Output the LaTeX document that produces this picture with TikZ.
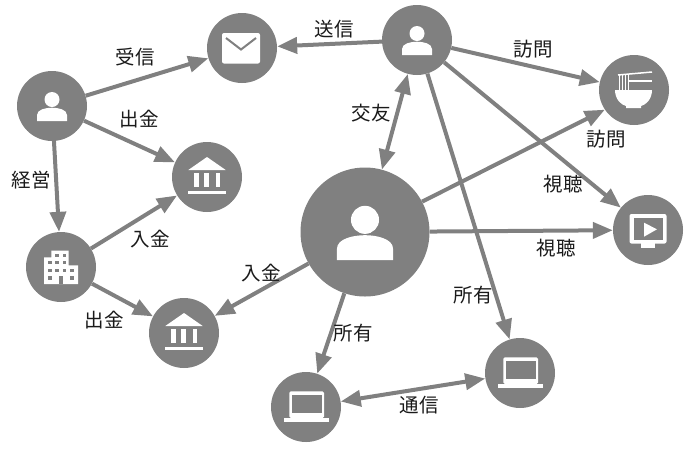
\documentclass[tikz,border=0pt]{standalone}
\usepackage{fontspec}
\setmainfont{Noto Sans CJK JP}
\usepackage{xcolor}
\usetikzlibrary{arrows.meta}
\definecolor{disc}{HTML}{808080}
\definecolor{ink}{HTML}{1A1A1A}
\tikzset{
  hub/.style={circle,fill=disc,minimum size=70pt,inner sep=0pt},
  bighub/.style={circle,fill=disc,minimum size=129pt,inner sep=0pt},
  link/.style={disc,line width=4pt,-{Triangle[length=20pt,width=16pt]}},
  twolink/.style={disc,line width=4pt,{Triangle[length=20pt,width=16pt]}-{Triangle[length=20pt,width=16pt]}},
  lab/.style={font=\fontsize{19.5}{20}\selectfont,text=ink,inner sep=0pt},
  person/.pic={
    \fill[white] (0,-6.5) circle (7.5);
    \fill[white] (-15,15) -- (-15,9) .. controls (-15,3.5) and (-6,1.7) .. (0,1.7)
      .. controls (6,1.7) and (15,3.5) .. (15,9) -- (15,15) -- cycle;
  },
  mailicon/.pic={
    \fill[white,rounded corners=2pt] (-20,-15) rectangle (18,15.5);
    \draw[disc,line width=2pt] (-16,-10) -- (-1,1.5) -- (14,-10);
  },
  bankicon/.pic={
    \fill[white] (0,-20) -- (18.7,-7) -- (-18.7,-7) -- cycle;
    \fill[white] (-12.7,-3.7) rectangle (-8,9.7);
    \fill[white] (-2.7,-3.7) rectangle (2,9.7);
    \fill[white] (8.7,-3.7) rectangle (13,9.7);
    \fill[white] (-18.7,13.7) rectangle (18.7,17);
  },
  laptopicon/.pic={
    \fill[white,rounded corners=1.5pt] (-16.7,-15.7) rectangle (18,11);
    \fill[disc] (-13.7,-12.3) rectangle (15.7,6);
    \fill[white] (-22,11) rectangle (23,15);
  },
  officeicon/.pic={
    \fill[white] (-17,17) -- (-17,-9.7) -- (-9.7,-9.7) -- (-9.7,-16.3) -- (7.7,-16.3)
      -- (7.7,-1.7) -- (17,-1.7) -- (17,17) -- cycle;
    \foreach \wx/\wy in {-4/-11.7,3.7/-11.7,-11/-4.3,-4/-4.3,3.7/-4.3,-11/3.3,-4/3.3,3.7/3.3,11/3.3,-11/11,11/11}
      \fill[disc] (\wx-1.7,\wy-1.7) rectangle (\wx+1.7,\wy+1.7);
    \fill[disc] (-2.3,9.3) rectangle (1.7,17);
  },
  ramenicon/.pic={
    \fill[white] (-19,0) -- (18,0) .. controls (18,9) and (12,15) .. (7,16) -- (7,18)
      -- (-8,18) -- (-8,16) .. controls (-13,15) and (-19,9) .. (-19,0) -- cycle;
    \draw[white,line width=1.5pt] (-16,-15) -- (18,-18);
    \draw[white,line width=1.5pt] (-6,-9) -- (18,-9);
    \foreach \nx in {-15,-11.7,-8.3,-5.7}
      \draw[white,line width=1pt] (\nx,-15) -- (\nx,0);
  },
  screenicon/.pic={
    \fill[white,rounded corners=2pt] (-18.5,-16) rectangle (18.5,13.5);
    \fill[disc] (-14.5,-11.7) rectangle (15,10);
    \fill[white] (-7,13) rectangle (7,18);
    \fill[white] (-4,-7.3) -- (-4,6.7) -- (9,-0.7) -- cycle;
  },
}
\begin{document}
\begin{tikzpicture}[x=1pt,y=-1pt]
  \useasboundingbox (0,0) rectangle (692,448);
  \node[hub] (owner) at (52,106) {};
  \node[hub] (mail) at (242,48) {};
  \node[hub] (bankA) at (207,177) {};
  \node[hub] (firm) at (61,267) {};
  \node[hub] (bankB) at (184,333) {};
  \node[hub] (friend) at (417,40) {};
  \node[hub] (ramen) at (634,90) {};
  \node[hub] (video) at (648,230) {};
  \node[bighub] (me) at (365,232) {};
  \node[hub] (pcA) at (306,407) {};
  \node[hub] (pcB) at (520,373) {};

  \draw[link] (owner) -- (mail);
  \draw[link] (owner) -- (bankA);
  \draw[link] (owner) -- (firm);
  \draw[link] (firm) -- (bankA);
  \draw[link] (firm) -- (bankB);
  \draw[link] (friend) -- (mail);
  \draw[twolink] (friend) -- (me);
  \draw[link] (friend) -- (ramen);
  \draw[link] (friend) -- (video);
  \draw[link] (friend) -- (pcB);
  \draw[link] (me.28) -- (ramen.214);
  \draw[link] (me) -- (video);
  \draw[link] (me) -- (bankB);
  \draw[link] (me) -- (pcA);
  \draw[twolink] (pcA) -- (pcB);

  \pic at (owner) {person};
  \pic at (friend) {person};
  \pic[scale=1.87] at (me) {person};
  \pic at (mail) {mailicon};
  \pic at (bankA) {bankicon};
  \pic at (bankB) {bankicon};
  \pic at (pcA) {laptopicon};
  \pic at (pcB) {laptopicon};
  \pic at (firm) {officeicon};
  \pic at (ramen) {ramenicon};
  \pic at (video) {screenicon};

  \node[lab] (l1) at (135,57) {受信};
  \node[lab] (l2) at (139,119) {出金};
  \node[lab] (l3) at (31,180) {経営};
  \node[lab] (l4) at (150,239) {入金};
  \node[lab] (l5) at (104,320) {出金};
  \node[lab] (l6) at (261,273) {入金};
  \node[lab] (l7) at (334,29) {送信};
  \node[lab] (l8) at (371,113) {交友};
  \node[lab] (l9) at (533,49) {訪問};
  \node[lab] (l10) at (606,139) {訪問};
  \node[lab] (l11) at (563,184) {視聴};
  \node[lab] (l12) at (556,248) {視聴};
  \node[lab] (l13) at (473,295) {所有};
  \node[lab] (l14) at (353,333) {所有};
  \node[lab] (l15) at (419,405) {通信};
\end{tikzpicture}
\end{document}
